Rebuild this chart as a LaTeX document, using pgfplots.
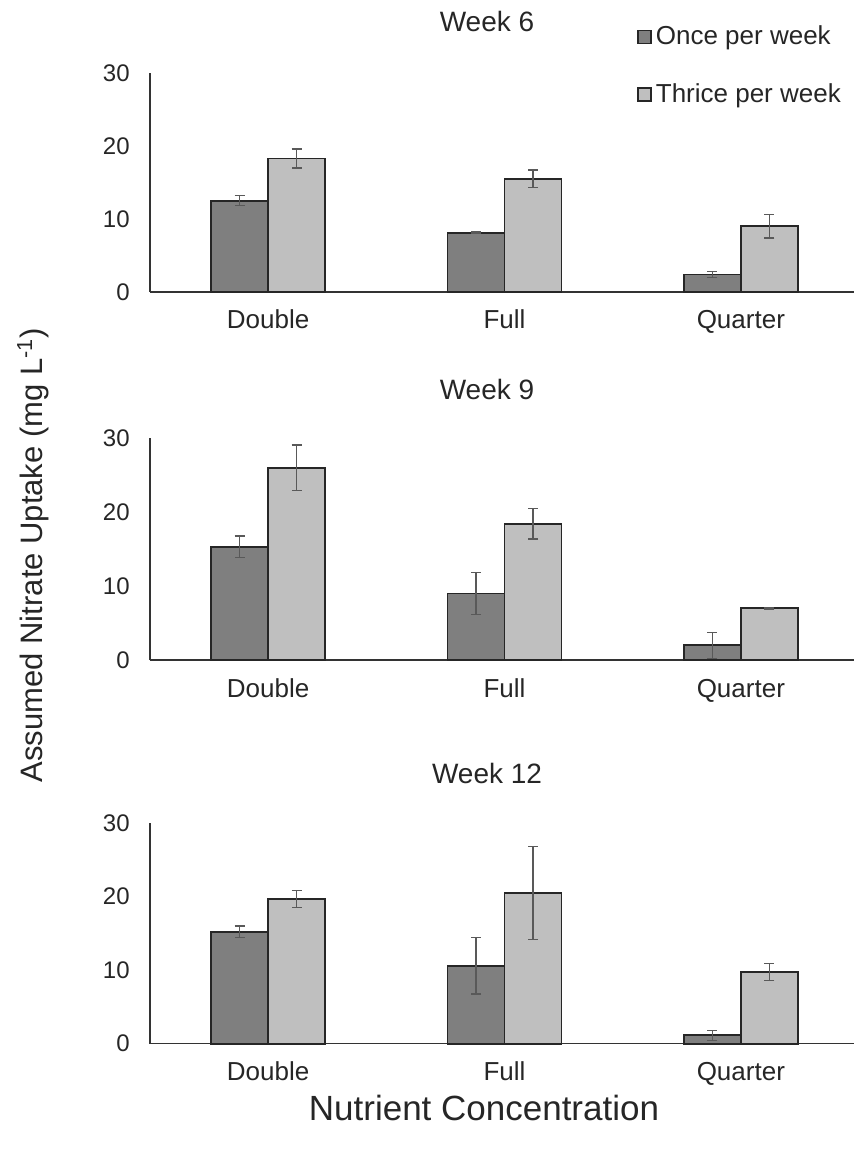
\documentclass[border=0pt]{standalone}
\usepackage{pgfplots}
\pgfplotsset{compat=1.18}
\usepackage{pgfplotstable}
\usepackage{fontspec}
\setmainfont{Liberation Sans}
\definecolor{onceC}{HTML}{7F7F7F}
\definecolor{thriceC}{HTML}{BFBFBF}
\definecolor{edgeC}{HTML}{262626}
\definecolor{errC}{HTML}{595959}

\pgfplotstableread{
x y e
0 12.5 0.7
1 8.1 0.12
2 2.4 0.4
}\wsixonce
\pgfplotstableread{
x y e
0 18.3 1.3
1 15.5 1.2
2 9.0 1.6
}\wsixthrice
\pgfplotstableread{
x y e
0 15.3 1.45
1 9.0 2.8
2 2.0 1.75
}\wnineonce
\pgfplotstableread{
x y e
0 26.0 3.05
1 18.4 2.05
2 7.0 0.1
}\wninethrice
\pgfplotstableread{
x y e
0 15.2 0.8
1 10.6 3.85
2 1.15 0.7
}\wtwelveonce
\pgfplotstableread{
x y e
0 19.65 1.15
1 20.5 6.3
2 9.7 1.15
}\wtwelvethrice

\pgfplotsset{
  panel/.style={
    scale only axis,
    width=354.5pt,
    ybar=0pt,
    bar width=28.5pt,
    xmin=-0.5, xmax=2.5,
    ymin=0, ymax=30,
    ytick={0,10,20,30},
    xtick=data,
    xticklabels={Double,Full,Quarter},
    axis x line*=bottom,
    axis y line*=left,
    axis line style={draw=black!80, line width=0.7pt},
    major tick length=0pt,
    /pgf/number format/assume math mode=true,
    yticklabel style={font=\fontsize{12}{14}\selectfont, text=black!85, anchor=east, inner sep=0pt, xshift=-10pt},
    xticklabel style={font=\fontsize{13}{15}\selectfont, text=black!85, anchor=base, inner sep=0pt, yshift=-18.5pt},
    clip=false,
  },
  oncebar/.style={fill=onceC, draw=edgeC, line width=0.9pt,
    error bars/.cd, y dir=both, y explicit,
    error bar style={color=errC, line width=0.6pt},
    error mark options={rotate=90, mark size=2.5pt, line width=0.6pt, color=errC}},
  thricebar/.style={fill=thriceC, draw=edgeC, line width=0.9pt,
    error bars/.cd, y dir=both, y explicit,
    error bar style={color=errC, line width=0.6pt},
    error mark options={rotate=90, mark size=2.5pt, line width=0.6pt, color=errC}},
}

\begin{document}
\begin{tikzpicture}
\path[use as bounding box] (0pt,0pt) rectangle (426.5pt,-577pt);

% Week 6
\begin{axis}[panel, height=109.5pt, at={(75pt,-146pt)}, anchor=south west,
  legend style={at={(axis description cs:0.687,1.235)}, anchor=north west, draw=none, fill=none,
    font=\fontsize{13}{15}\selectfont, text=black!85, inner sep=0pt, row sep=14pt,
    cells={anchor=west}},
  legend image code/.code={\draw[#1, line width=0.7pt] (0pt,-3.2pt) rectangle (6.5pt,3.3pt);},
  ]
\addplot[oncebar] table[x=x, y=y, y error=e] {\wsixonce};
\addplot[thricebar] table[x=x, y=y, y error=e] {\wsixthrice};
\legend{Once per week, Thrice per week}
\end{axis}

% Week 9
\begin{axis}[panel, height=111pt, at={(75pt,-330pt)}, anchor=south west]
\addplot[oncebar] table[x=x, y=y, y error=e] {\wnineonce};
\addplot[thricebar] table[x=x, y=y, y error=e] {\wninethrice};
\end{axis}

% Week 12
\begin{axis}[panel, height=110.35pt, at={(75pt,-521.85pt)}, anchor=south west]
\addplot[oncebar] table[x=x, y=y, y error=e] {\wtwelveonce};
\addplot[thricebar] table[x=x, y=y, y error=e] {\wtwelvethrice};
\end{axis}

% titles and labels
\node[font=\fontsize{14}{16}\selectfont, text=black!85] at (243.5pt,-11pt) {Week 6};
\node[font=\fontsize{14}{16}\selectfont, text=black!85] at (243.5pt,-194.5pt) {Week 9};
\node[font=\fontsize{14}{16}\selectfont, text=black!85] at (243.5pt,-386.5pt) {Week 12};
\node[font=\fontsize{15.5}{18}\selectfont, text=black!85, rotate=90] at (16.5pt,-277.5pt) {Assumed Nitrate Uptake (mg L\textsuperscript{-1})};
\node[font=\fontsize{17.5}{20}\selectfont, text=black!85] at (242pt,-554pt) {Nutrient Concentration};
\end{tikzpicture}
\end{document}
